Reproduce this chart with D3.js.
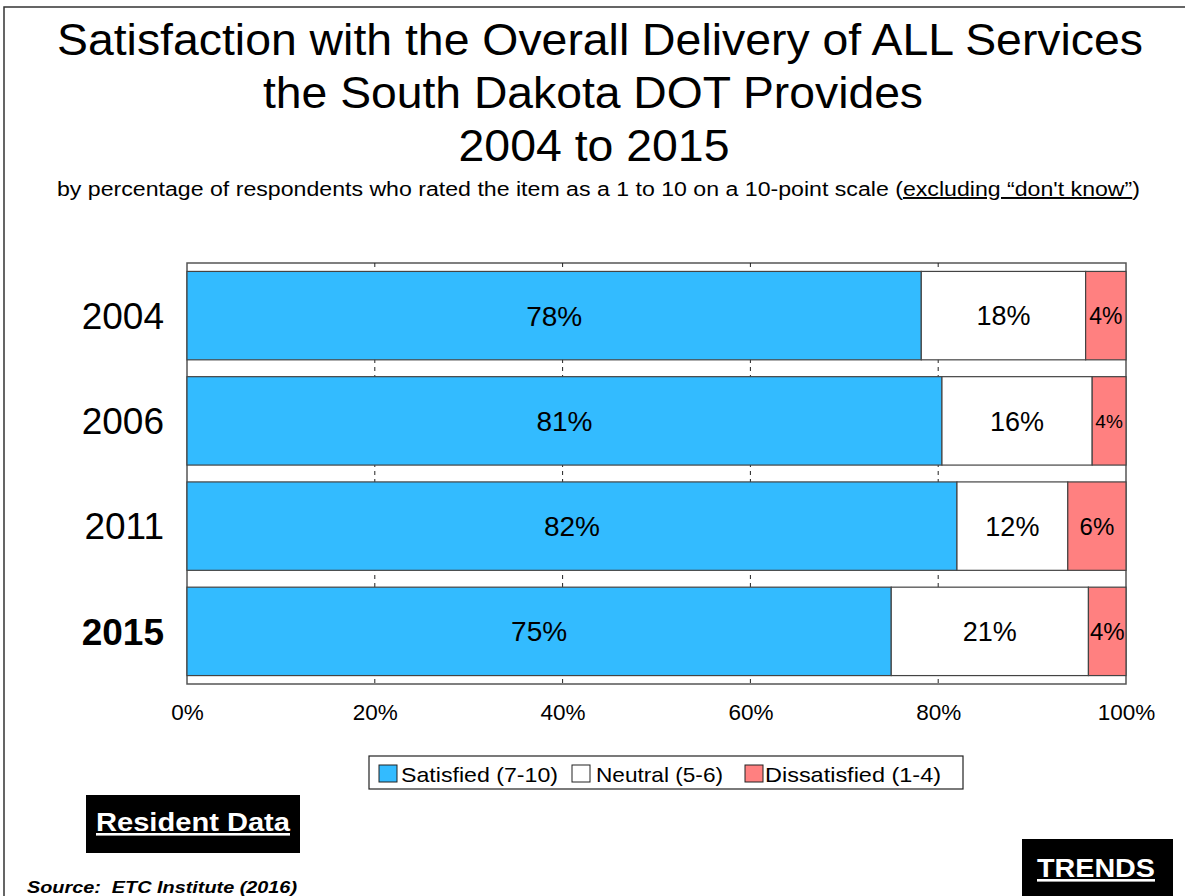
<html>
<head>
<script src="https://d3js.org/d3.v7.min.js"></script>
<style>
  body { margin: 0; background: white; }
  * { font-family: "Liberation Sans", Arial, sans-serif; }
</style>
</head>
<body>
<svg id="chart" width="1185" height="896"></svg>
<script>
// data
const years = ["2004", "2006", "2011", "2015"];
const satisfied = [78.2, 80.4, 82.0, 75.0];
const neutral = [17.5, 16.0, 11.8, 21.0];
const dissatisfied = [4.3, 3.6, 6.2, 4.0];
const labels = [["78%", "18%", "4%"], ["81%", "16%", "4%"], ["82%", "12%", "6%"], ["75%", "21%", "4%"]];
const seriesNames = ["Satisfied (7-10)", "Neutral (5-6)", "Dissatisfied (1-4)"];
const xTicks = [0, 20, 40, 60, 80, 100];

const colors = ["#33bbff", "#ffffff", "#ff8080"];

const svg = d3.select("#chart");
const margin = { top: 263, left: 187, right: 59, bottom: 212 };
const plotW = 1185 - margin.left - margin.right;
const plotH = 896 - margin.top - margin.bottom;

// frame
svg.append("rect").attr("x", 4).attr("y", 7).attr("width", 1200).attr("height", 900)
  .attr("fill", "none").attr("stroke", "#333").attr("stroke-width", 1.5);

// titles
const titleLines = ["Satisfaction with the Overall Delivery of ALL Services", "the South Dakota DOT Provides", "2004 to 2015"];
const titleWidths = [1086, 660, 271];
const titleCenters = [600, 593, 594];
svg.selectAll(".title").data(titleLines).join("text")
  .attr("class", "title")
  .attr("x", (d, i) => titleCenters[i]).attr("y", (d, i) => 55 + i * 53)
  .attr("text-anchor", "middle").attr("font-size", 45)
  .attr("textLength", (d, i) => titleWidths[i]).attr("lengthAdjust", "spacingAndGlyphs")
  .text(d => d);

const sub = svg.append("text").attr("x", 57).attr("y", 196).attr("font-size", 19.5)
  .attr("textLength", 1083).attr("lengthAdjust", "spacingAndGlyphs");
sub.append("tspan").text("by percentage of respondents who rated the item as a 1 to 10 on a 10-point scale (");
sub.append("tspan").attr("text-decoration", "underline").text("excluding \u201cdon't know\u201d");
sub.append("tspan").text(")");

const plot = svg.append("g").attr("transform", `translate(${margin.left},${margin.top})`);

const x = d3.scaleLinear().domain([0, 100]).range([0, plotW]);
const y = d3.scaleBand().domain(years).range([0, plotH]).paddingInner(0.16).paddingOuter(0.08);

// plot border
plot.append("rect").attr("width", plotW).attr("height", plotH)
  .attr("fill", "white").attr("stroke", "#555").attr("stroke-width", 1.5);

// dashed gridlines
plot.append("g").selectAll("line").data(xTicks.slice(1, -1)).join("line")
  .attr("x1", d => x(d)).attr("x2", d => x(d)).attr("y1", 0).attr("y2", plotH)
  .attr("stroke", "#222").attr("stroke-dasharray", "4,4");

// stacked bars
const table = years.map((yr, i) => ({ year: yr, values: [satisfied[i], neutral[i], dissatisfied[i]], labels: labels[i] }));
const labelSizes = [[28, 27, 23], [28, 27, 19], [28, 27, 24], [28, 27, 24]];

table.forEach((row, r) => {
  let start = 0;
  row.values.forEach((v, k) => {
    const g = plot.append("g");
    g.append("rect")
      .attr("x", x(start)).attr("y", y(row.year))
      .attr("width", x(start + v) - x(start)).attr("height", y.bandwidth())
      .attr("fill", colors[k]).attr("stroke", "#444").attr("stroke-width", 1.2);
    g.append("text")
      .attr("x", x(start + v / 2)).attr("y", y(row.year) + y.bandwidth() / 2)
      .attr("dy", "0.36em").attr("text-anchor", "middle")
      .attr("font-size", labelSizes[r][k]).text(row.labels[k]);
    start += v;
  });
});

// year labels
svg.append("g").attr("transform", `translate(0,${margin.top})`)
  .selectAll("text").data(years).join("text")
  .attr("x", 164).attr("y", d => y(d) + y.bandwidth() / 2).attr("dy", "0.36em")
  .attr("text-anchor", "end").attr("font-size", 37)
  .attr("font-weight", d => d === "2015" ? "bold" : "normal").text(d => d);

// x axis
const xAxis = d3.axisBottom(x).tickValues(xTicks).tickSize(0).tickPadding(20).tickFormat(d => d + "%");
const ax = plot.append("g").attr("transform", `translate(0,${plotH})`).call(xAxis);
ax.select(".domain").remove();
ax.selectAll("text").attr("font-size", 22.5).attr("fill", "#000").attr("font-family", "Liberation Sans, Arial");

// legend
const legend = svg.append("g");
legend.append("rect").attr("x", 369).attr("y", 756).attr("width", 594).attr("height", 33)
  .attr("fill", "white").attr("stroke", "#222").attr("stroke-width", 1.2);
const legBox = [379, 572, 745];
const legText = [401, 596, 765];
const legW = [157, 127, 176];
seriesNames.forEach((name, i) => {
  legend.append("rect").attr("x", legBox[i]).attr("y", 765).attr("width", 18).attr("height", 17)
    .attr("fill", colors[i]).attr("stroke", "#222");
  legend.append("text").attr("x", legText[i]).attr("y", 782).attr("font-size", 21)
    .attr("textLength", legW[i]).attr("lengthAdjust", "spacingAndGlyphs").text(name);
});

// badges
svg.append("rect").attr("x", 86).attr("y", 795).attr("width", 214).attr("height", 58).attr("fill", "#000");
svg.append("text").attr("x", 96).attr("y", 831).attr("font-size", 26)
  .attr("textLength", 194).attr("lengthAdjust", "spacingAndGlyphs")
  .attr("font-weight", "bold").attr("fill", "white").attr("text-decoration", "underline").text("Resident Data");

svg.append("rect").attr("x", 1022).attr("y", 839).attr("width", 151).attr("height", 60).attr("fill", "#000");
svg.append("text").attr("x", 1037).attr("y", 877).attr("font-size", 26)
  .attr("textLength", 118).attr("lengthAdjust", "spacingAndGlyphs")
  .attr("font-weight", "bold").attr("fill", "white").attr("text-decoration", "underline").text("TRENDS");

svg.append("text").attr("x", 27).attr("y", 893).attr("font-size", 17).attr("font-weight", "bold")
  .attr("textLength", 270).attr("lengthAdjust", "spacingAndGlyphs")
  .attr("font-style", "italic").attr("xml:space", "preserve").text("Source:  ETC Institute (2016)");
</script>
</body>
</html>
